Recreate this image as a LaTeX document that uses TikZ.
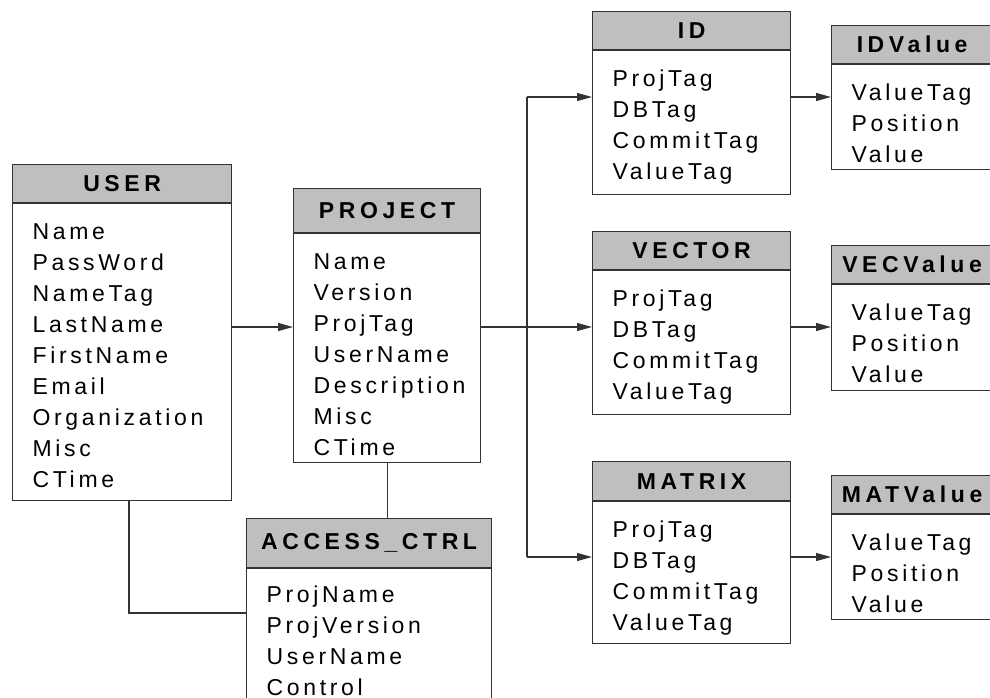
\documentclass[tikz,border=0pt]{standalone}
\usepackage{fontspec}
\newfontfamily\fieldfont[LetterSpace=16]{Liberation Sans}
\newfontfamily\titlefont[LetterSpace=20]{Liberation Sans Bold}
\usetikzlibrary{arrows.meta, positioning}

\tikzset{
    tablehead/.style={draw=black!80, fill=black!25, line width=1.2pt, anchor=north west, inner sep=0pt, font=\fontsize{23}{31}\selectfont\titlefont},
    tablebody/.style={draw=black!80, fill=white, line width=1.2pt, align=left, inner xsep=20pt, inner ysep=0pt, text height=36pt, font=\fontsize{23}{31}\selectfont\fieldfont},
    link/.style={draw=black!80, line width=1.2pt}
}

\begin{document}
\begin{tikzpicture}[x=1pt, y=-1pt, >={Triangle[length=15pt, width=8pt]}]
    \useasboundingbox (0,0) rectangle (990,698);
    \clip (0,0) rectangle (990,698);

    \node[tablehead, minimum width=219pt, minimum height=38pt] (user) at (12,164) {USER};
    \node[tablebody, below=0pt of user, text width=179pt, text depth=261pt] (userf) {Name\\PassWord\\NameTag\\LastName\\FirstName\\Email\\Organization\\Misc\\CTime};

    \node[tablehead, minimum width=187pt, minimum height=44pt] (project) at (293,188) {PROJECT};
    \node[tablebody, below=0pt of project, text width=147pt, text depth=193pt] (projectf) {Name\\Version\\ProjTag\\UserName\\Description\\Misc\\CTime};

    \node[tablehead, minimum width=245pt, minimum height=49pt] (access) at (246,518) {ACCESS\_CTRL};
    \node[tablebody, below=0pt of access, text width=205pt, text height=34pt, text depth=150pt] (accessf) {ProjName\\ProjVersion\\UserName\\Control};

    \node[tablehead, minimum width=198pt, minimum height=38pt] (id) at (592,11) {ID};
    \node[tablebody, below=0pt of id, text width=158pt, text depth=108pt] (idf) {ProjTag\\DBTag\\CommitTag\\ValueTag};
    \node[tablehead, minimum width=198pt, minimum height=38pt] (vector) at (592,231) {VECTOR};
    \node[tablebody, below=0pt of vector, text width=158pt, text depth=108pt] (vectorf) {ProjTag\\DBTag\\CommitTag\\ValueTag};
    \node[tablehead, minimum width=198pt, minimum height=39pt] (matrix) at (592,461) {MATRIX};
    \node[tablebody, below=0pt of matrix, text width=158pt, text depth=106pt] (matrixf) {ProjTag\\DBTag\\CommitTag\\ValueTag};

    \node[tablehead, minimum width=161pt, minimum height=38pt] (idval) at (831,25) {IDValue};
    \node[tablebody, below=0pt of idval, text width=121pt, text depth=69pt] (idvalf) {ValueTag\\Position\\Value};
    \node[tablehead, minimum width=161pt, minimum height=38pt] (vecval) at (831,245) {VECValue};
    \node[tablebody, below=0pt of vecval, text width=121pt, text depth=70pt] (vecvalf) {ValueTag\\Position\\Value};
    \node[tablehead, minimum width=161pt, minimum height=38pt] (matval) at (831,475) {MATValue};
    \node[tablebody, below=0pt of matval, text width=121pt, text depth=69pt] (matvalf) {ValueTag\\Position\\Value};

    \coordinate (top) at (527,97);
    \coordinate (fork) at (527,327);
    \coordinate (bot) at (527,557);
    \coordinate (userlink) at (129,613);

    \draw[link, ->] (userf.east |- fork) -- (projectf.west |- fork);
    \draw[link] (projectf.east |- fork) -- (fork);
    \draw[link] (top) -- (bot);
    \draw[link, ->] (top) -- (idf.west |- top);
    \draw[link, ->] (fork) -- (vectorf.west |- fork);
    \draw[link, ->] (bot) -- (matrixf.west |- bot);
    \draw[link, ->] (idf.east |- top) -- (idvalf.west |- top);
    \draw[link, ->] (vectorf.east |- fork) -- (vecvalf.west |- fork);
    \draw[link, ->] (matrixf.east |- bot) -- (matvalf.west |- bot);
    \draw[link] (userf.south -| userlink) |- (accessf.west |- userlink);
    \draw[link] (projectf.south) -- (access.north -| projectf.south);
\end{tikzpicture}
\end{document}
